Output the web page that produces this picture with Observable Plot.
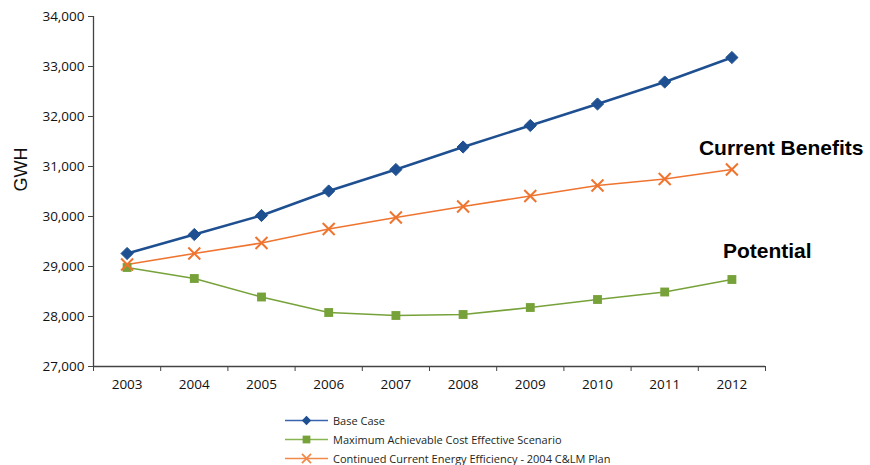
<!DOCTYPE html>
<html>
<head>
<meta charset="utf-8">
<script src="https://cdn.jsdelivr.net/npm/d3@7"></script>
<script src="https://cdn.jsdelivr.net/npm/@observablehq/plot@0.6"></script>
<style>
  body { margin: 0; background: #fff; font-family: "Open Sans", sans-serif; }
  #legend { position: absolute; left: 284px; top: 411px; }
  .row { display: flex; align-items: center; height: 19px; font-size: 11px; color: #231f20; }
  .row svg { margin-right: 4px; }
</style>
</head>
<body>
<div id="chart"></div>
<div id="legend"></div>
<script>
const years = [2003, 2004, 2005, 2006, 2007, 2008, 2009, 2010, 2011, 2012];
const baseCase = [29260, 29640, 30020, 30510, 30940, 31390, 31820, 32250, 32690, 33180];
const maxAchievable = [28980, 28760, 28390, 28080, 28020, 28040, 28180, 28340, 28490, 28740];
const continuedEE = [29040, 29260, 29470, 29750, 29980, 30200, 30410, 30620, 30750, 30940];
const yTicks = [27000, 28000, 29000, 30000, 31000, 32000, 33000, 34000];
const seriesNames = ["Base Case", "Maximum Achievable Cost Effective Scenario", "Continued Current Energy Efficiency - 2004 C&LM Plan"];
const annotations = ["Current Benefits", "Potential"];

const colors = {blue: "#1d4f91", green: "#77a23a", orange: "#ef7430"};

const mk = (vals) => years.map((y, i) => ({year: y, value: vals[i]}));
const blue = mk(baseCase), green = mk(maxAchievable), orange = mk(continuedEE);

const x0 = years[0] - 0.5, x1 = years[years.length - 1] + 0.5;
const boundaries = d3.range(years.length + 1).map(i => x0 + i);

const plot = Plot.plot({
  width: 870,
  height: 405,
  marginLeft: 93,
  marginRight: 105,
  marginTop: 16,
  marginBottom: 39,
  style: {fontFamily: "'Open Sans', sans-serif", color: "#111", background: "#fff"},
  x: {type: "linear", domain: [x0, x1]},
  y: {domain: [27000, 34000]},
  marks: [
    Plot.ruleX([x0], {y1: 27000, y2: 34000, stroke: "#444", strokeWidth: 1.3}),
    Plot.ruleY([27000], {x1: x0, x2: x1, stroke: "#444", strokeWidth: 1.3}),
    Plot.axisY({ticks: yTicks, tickSize: 5, tickPadding: 4, tickFormat: d3.format(","), fontSize: 13.5, label: null, stroke: "#444"}),
    Plot.axisX({ticks: boundaries, tickSize: 5, tickFormat: () => "", label: null, stroke: "#444"}),
    Plot.axisX({ticks: years, tickSize: 0, tickPadding: 13, tickFormat: d3.format("d"), fontSize: 13.5, label: null}),
    Plot.text(["GWH"], {frameAnchor: "left", rotate: -90, dx: -72, fontSize: 18, fontFamily: "'Liberation Sans', Arial, sans-serif", fill: "#111"}),
    Plot.line(green, {x: "year", y: "value", stroke: colors.green, strokeWidth: 1.6}),
    Plot.line(orange, {x: "year", y: "value", stroke: colors.orange, strokeWidth: 1.6}),
    Plot.line(blue, {x: "year", y: "value", stroke: colors.blue, strokeWidth: 2.4}),
    Plot.dot(green, {x: "year", y: "value", symbol: "square", r: 5, fill: colors.green, stroke: "none"}),
    Plot.dot(orange, {x: "year", y: "value", symbol: "times", r: 5.5, stroke: colors.orange, strokeWidth: 2}),
    Plot.dot(blue, {x: "year", y: "value", symbol: "diamond2", r: 5.5, fill: colors.blue, stroke: colors.blue, strokeWidth: 1}),
    Plot.text([orange[orange.length - 1]], {x: "year", y: "value", text: () => annotations[0], textAnchor: "start", dx: -33, dy: -21, fontSize: 21, fontWeight: "bold", fontFamily: "'Liberation Sans', Arial, sans-serif", fill: "#000"}),
    Plot.text([green[green.length - 1]], {x: "year", y: "value", text: () => annotations[1], textAnchor: "start", dx: -9, dy: -28, fontSize: 21, fontWeight: "bold", fontFamily: "'Liberation Sans', Arial, sans-serif", fill: "#000"})
  ]
});
document.getElementById("chart").appendChild(plot);

// legend
const legendColors = ["#3a63b0", "#86b552", "#f08a4b"];
const legend = d3.select("#legend");
seriesNames.forEach((name, i) => {
  const row = legend.append("div").attr("class", "row");
  const s = row.append("svg").attr("width", 45).attr("height", 19);
  s.append("line").attr("x1", 1).attr("x2", 44).attr("y1", 9.5).attr("y2", 9.5)
    .attr("stroke", legendColors[i]).attr("stroke-width", 1.3);
  const sym = s.append("path").attr("transform", "translate(22.5,9.5)")
    .attr("d", d3.symbol([d3.symbolDiamond2, d3.symbolSquare, d3.symbolTimes][i], i === 1 ? 60 : 55)());
  if (i === 2) sym.attr("fill", "none").attr("stroke", legendColors[i]).attr("stroke-width", 1.8);
  else sym.attr("fill", i === 0 ? colors.blue : colors.green);
  row.append("span").text(name);
});
</script>
</body>
</html>
